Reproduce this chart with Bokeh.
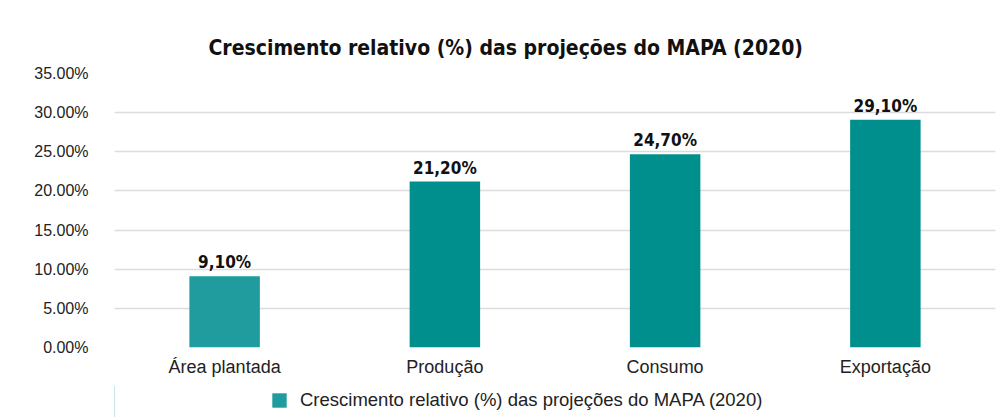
from bokeh.plotting import figure
from bokeh.layouts import column
from bokeh.models import ColumnDataSource, LabelSet, PrintfTickFormatter, Legend, Title, FixedTicker, Range1d
from bokeh.core.properties import value
from bokeh.embed import file_html
from bokeh.resources import INLINE

categories = ["Área plantada", "Produção", "Consumo", "Exportação"]
values = [9.1, 21.2, 24.7, 29.1]
bar_colors = ["#209c9f", "#008f8c", "#008f8c", "#008f8c"]
value_labels = ["9,10%", "21,20%", "24,70%", "29,10%"]
y_ticks = [0, 5, 10, 15, 20, 25, 30, 35]
series_name = "Crescimento relativo (%) das projeções do MAPA (2020)"
legend_color = "#209c9f"

src = ColumnDataSource(dict(cat=categories, val=values, color=bar_colors, lab=value_labels))

p = figure(width=1002, height=385, x_range=categories, y_range=(0, 35),
           output_backend="svg", toolbar_location=None,
           min_border_left=114, min_border_right=7, min_border_top=73, min_border_bottom=38)
p.outline_line_color = None
p.background_fill_color = "white"
p.border_fill_color = "white"

r = p.vbar(x="cat", top="val", width=0.32, fill_color="color", line_color=None, source=src)

labels = LabelSet(x="cat", y="val", text="lab", source=src, text_align="center",
                  text_baseline="bottom", y_offset=4, text_font_size="17px",
                  text_font_style="bold", text_font=value("DejaVu Sans Condensed"), text_color="#111111")
p.add_layout(labels)

t = Title(text="Crescimento relativo (%) das projeções do MAPA (2020)", align="left",
          text_font_size="21px", text_font_style="bold", text_font="DejaVu Sans Condensed",
          text_color="#111111", offset=94, standoff=27)
p.add_layout(t, "above")

p.yaxis.ticker = FixedTicker(ticks=y_ticks)
p.yaxis.formatter = PrintfTickFormatter(format="%.2f%%")
for ax in (p.xaxis, p.yaxis):
    ax.axis_line_color = None
    ax.major_tick_line_color = None
    ax.minor_tick_line_color = None
    ax.major_label_text_font = "Liberation Sans"
    ax.major_label_text_color = "#222222"
p.yaxis.major_label_text_font_size = "16px"
p.yaxis.major_label_standoff = 20
p.xaxis.major_label_text_font_size = "18px"
p.xaxis.major_label_standoff = 3
p.xgrid.grid_line_color = None
p.ygrid.grid_line_color = "#dcdcdc"
p.ygrid.grid_line_width = 1.5

# legend strip below the chart
p2 = figure(width=1002, height=32, x_range=Range1d(0, 1), y_range=Range1d(0, 1),
            output_backend="svg", toolbar_location=None,
            min_border_left=0, min_border_right=0, min_border_top=0, min_border_bottom=0)
p2.axis.visible = False
p2.grid.visible = False
p2.outline_line_color = None
p2.background_fill_color = "white"
p2.border_fill_color = "white"
r2 = p2.vbar(x=[-10], top=[1], width=0.5, fill_color=legend_color, line_color=None)
legend = Legend(items=[(series_name, [r2])], orientation="horizontal", location=(156, 6),
                label_text_font="Liberation Sans", label_text_font_size="18.5px",
                label_text_color="#222222", border_line_color=None, background_fill_alpha=0,
                glyph_width=18, glyph_height=18, label_height=18, label_standoff=12,
                padding=0, margin=0, spacing=0)
p2.add_layout(legend, "center")

layout = column(p, p2, spacing=0)
open("out.html", "w").write(file_html(layout, INLINE))
